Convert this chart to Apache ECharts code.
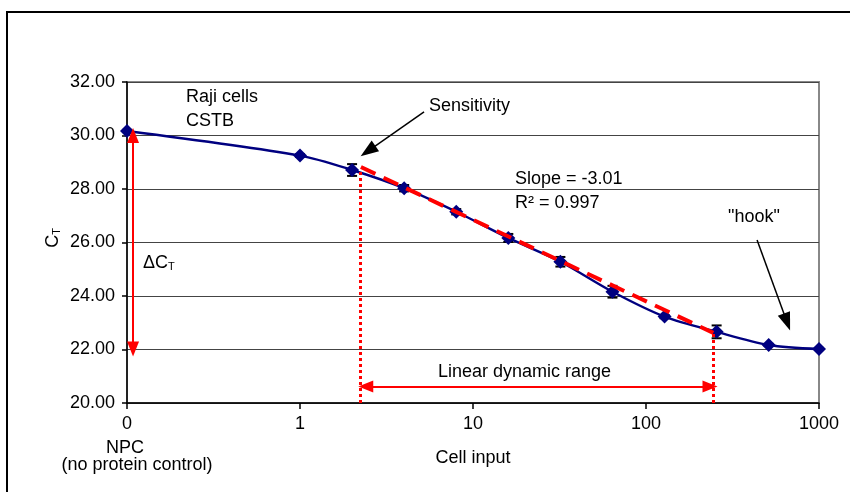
<!DOCTYPE html>
<html>
<head>
    <meta charset="utf-8">
    <script src="https://cdn.jsdelivr.net/npm/echarts@6/dist/echarts.min.js"></script>
    <style>
        html, body { margin: 0; padding: 0; background: #fff; }
    </style>
</head>
<body>
    <div id="chart" style="width: 850px;height:492px;"></div>
    <script type="text/javascript">
        // cell input (NPC = no protein control) and mean CT
        var cellInput = ['NPC', 1, 2, 4, 8, 16, 32, 64, 128, 256, 512, 1000];
        var ctValues = [30.17, 29.25, 28.71, 28.03, 27.15, 26.17, 25.28, 24.16, 23.23, 22.66, 22.17, 22.02];
        var ctErrors = [0.04, 0.05, 0.22, 0.12, 0.10, 0.15, 0.18, 0.22, 0.06, 0.24, 0.04, 0.04];
        var xTickLabels = ['0', '1', '10', '100', '1000'];
        var yTicks = { min: 20, max: 32, step: 2 };
        // linear fit across the dynamic range
        var fitCells = [2.25, 245];
        var fitCt = [28.82, 22.62];
        var rangeTopCt = [28.70, 22.60];

        // NPC sits one decade below 1 on the log axis
        function pos(c) {
            return c === 'NPC' ? 0 : Math.log10(c) + 1;
        }

        var points = cellInput.map(function (c, i) { return [pos(c), ctValues[i]]; });
        var errData = cellInput.map(function (c, i) { return [pos(c), ctValues[i], ctErrors[i]]; });
        var fitData = fitCells.map(function (c, i) { return [pos(c), fitCt[i]]; });

        var font = '"Liberation Sans", Arial, Helvetica, sans-serif';
        var myChart = echarts.init(document.getElementById('chart'));

        function txt(x, y, text, extra) {
            var s = { text: text, x: 0, y: 0, font: '18px ' + font, fill: '#000', align: 'left', verticalAlign: 'middle' };
            for (var k in extra) s[k] = extra[k];
            return { type: 'text', x: x, y: y, style: s, z: 100 };
        }

        var subRich = {
            c: { fontSize: 18, fontFamily: font, lineHeight: 20, verticalAlign: 'bottom' },
            s: { fontSize: 11, fontFamily: font, lineHeight: 13, verticalAlign: 'bottom' }
        };

        var option = {
            animation: false,
            textStyle: { fontFamily: font },
            grid: { left: 127, right: 31, top: 82, bottom: 89, show: true, borderColor: '#888', borderWidth: 2 },
            xAxis: {
                type: 'value', min: 0, max: 4, interval: 1,
                name: 'Cell input', nameLocation: 'middle', nameGap: 46,
                nameTextStyle: { fontSize: 18, color: '#000' },
                axisLine: { lineStyle: { color: '#000', width: 1.5 } },
                axisTick: { inside: false, length: 6, lineStyle: { color: '#000', width: 1.5 } },
                axisLabel: { fontSize: 18, color: '#000', margin: 12, formatter: function (v) { return xTickLabels[v]; } },
                splitLine: { show: false }
            },
            yAxis: {
                type: 'value', min: yTicks.min, max: yTicks.max, interval: yTicks.step,
                axisLine: { show: true, lineStyle: { color: '#000', width: 1.5 } },
                axisTick: { show: true, inside: false, length: 5, lineStyle: { color: '#000', width: 1.5 } },
                axisLabel: { fontSize: 18, color: '#000', margin: 12, formatter: function (v) { return v.toFixed(2); } },
                splitLine: { lineStyle: { color: '#444', width: 1 } }
            },
            series: [
                {
                    type: 'custom', z: 2,
                    data: errData,
                    renderItem: function (params, api) {
                        var x = api.value(0), y = api.value(1), e = api.value(2);
                        var t = api.coord([x, y + e]), b = api.coord([x, y - e]);
                        var w = 5, st = { stroke: '#000', lineWidth: 2 };
                        return { type: 'group', children: [
                            { type: 'line', shape: { x1: t[0], y1: t[1], x2: b[0], y2: b[1] }, style: st },
                            { type: 'line', shape: { x1: t[0] - w, y1: t[1], x2: t[0] + w, y2: t[1] }, style: st },
                            { type: 'line', shape: { x1: b[0] - w, y1: b[1], x2: b[0] + w, y2: b[1] }, style: st }
                        ] };
                    }
                },
                {
                    type: 'line', z: 4,
                    data: points,
                    smooth: 0.3,
                    symbol: 'diamond', symbolSize: 14,
                    itemStyle: { color: '#000080' },
                    lineStyle: { color: '#000080', width: 2.4 }
                },
                {
                    type: 'line', z: 5,
                    data: fitData,
                    symbol: 'none',
                    lineStyle: { color: '#ff0000', width: 4, type: [16, 9] }
                },
                {
                    // dotted range bounds
                    type: 'line', data: [], z: 3,
                    markLine: {
                        silent: true, symbol: 'none', label: { show: false },
                        lineStyle: { color: '#ff0000', width: 3, type: [3, 3] },
                        data: [
                            [{ coord: [1.35, 20] }, { coord: [1.35, rangeTopCt[0]] }],
                            [{ coord: [3.39, 20] }, { coord: [3.39, rangeTopCt[1]] }]
                        ]
                    }
                },
                {
                    // red double arrows
                    type: 'line', data: [], z: 6,
                    markLine: {
                        silent: true, symbol: ['triangle', 'triangle'], symbolSize: [12, 15], label: { show: false },
                        lineStyle: { color: '#ff0000', width: 2, type: 'solid' },
                        itemStyle: { color: '#ff0000' },
                        data: [
                            [{ coord: [0.035, 30.0] }, { coord: [0.035, 22.02] }],
                            [{ coord: [1.38, 20.62] }, { coord: [3.37, 20.62] }]
                        ]
                    }
                },
                {
                    // black pointer arrows
                    type: 'line', data: [], z: 6,
                    markLine: {
                        silent: true, symbol: ['none', 'triangle'], symbolSize: [13, 18], label: { show: false },
                        lineStyle: { color: '#000', width: 1.5, type: 'solid' },
                        itemStyle: { color: '#000' },
                        data: [
                            [{ coord: [1.717, 30.88] }, { coord: [1.393, 29.42] }],
                            [{ coord: [3.642, 26.09] }, { coord: [3.815, 23.03] }]
                        ]
                    }
                }
            ],
            graphic: [
                { type: 'rect', shape: { x: 7, y: 12, width: 900, height: 520 }, style: { fill: 'none', stroke: '#000', lineWidth: 2 }, z: 0 },
                txt(186, 97, 'Raji cells'),
                txt(186, 121, 'CSTB'),
                txt(429, 106, 'Sensitivity'),
                txt(515, 179, 'Slope = -3.01'),
                txt(515, 203, 'R\u00b2 = 0.997'),
                txt(728, 217, '"hook"'),
                txt(438, 372, 'Linear dynamic range'),
                txt(143, 262, '{c|\u0394C}{s|T}', { rich: subRich, font: undefined }),
                txt(125, 448, 'NPC', { align: 'center' }),
                txt(137, 465, '(no protein control)', { align: 'center' }),
                { type: 'text', x: 52, y: 238, rotation: Math.PI / 2, z: 100,
                  style: { text: '{c|C}{s|T}', rich: subRich, align: 'center', verticalAlign: 'middle', fill: '#000' } }
            ]
        };
        myChart.setOption(option);
    </script>
</body>
</html>
